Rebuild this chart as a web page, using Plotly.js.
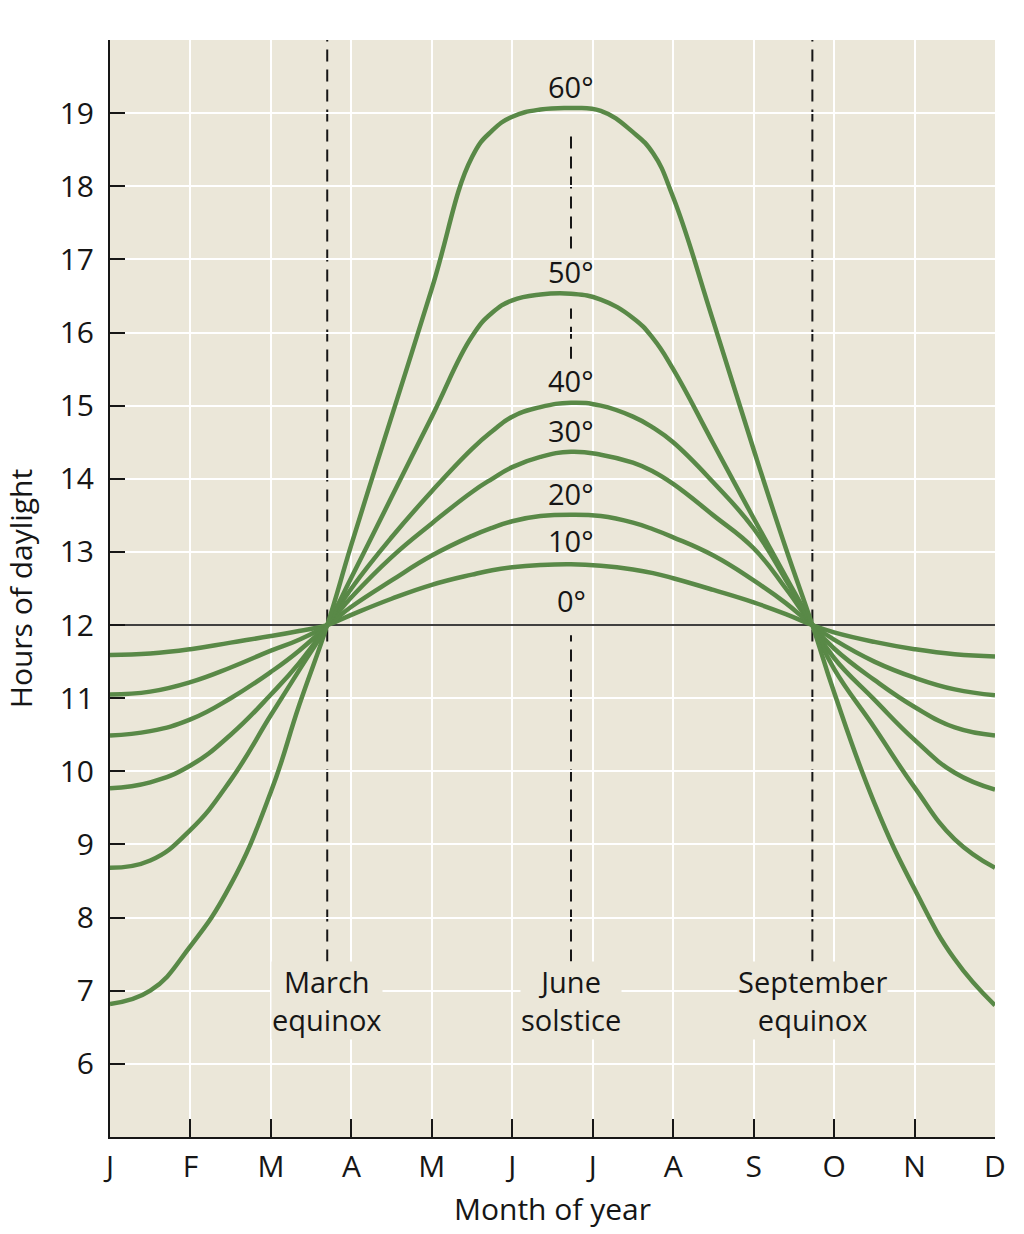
<!DOCTYPE html>
<html>
<head>
<meta charset="utf-8">
<script src="https://cdn.plot.ly/plotly-3.0.1.min.js"></script>
<style>
  body { margin: 0; background: #ffffff; }
  #chart { width: 1024px; height: 1234px; }
</style>
</head>
<body>
<div id="chart"></div>
<script>
// month position along the axis (0 = J ... 11 = D)
const monthPos = [0, 0.5, 1, 1.5, 2, 2.35, 2.7, 3, 3.5, 4, 4.5, 4.75, 5, 5.35, 5.73,
  6.1, 6.5, 6.75, 7, 7.5, 8, 8.4, 8.73, 9, 9.5, 10, 10.5, 11];

// hours of daylight
const lat0 = [12, 12, 12, 12, 12, 12, 12, 12, 12, 12, 12, 12, 12, 12, 12,
  12, 12, 12, 12, 12, 12, 12, 12, 12, 12, 12, 12, 12];
const lat10 = [11.59, 11.61, 11.67, 11.76, 11.85, 11.92, 12.0, 12.14, 12.36, 12.55, 12.69, 12.75, 12.79, 12.82, 12.83,
  12.81, 12.76, 12.71, 12.64, 12.48, 12.31, 12.15, 12.0, 11.9, 11.77, 11.67, 11.6, 11.57];
const lat20 = [11.05, 11.09, 11.22, 11.42, 11.65, 11.8, 12.0, 12.25, 12.61, 12.95, 13.22, 13.33, 13.42, 13.49, 13.51,
  13.49, 13.4, 13.31, 13.2, 12.95, 12.61, 12.3, 12.0, 11.8, 11.5, 11.28, 11.12, 11.04];
const lat30 = [10.49, 10.55, 10.71, 11.0, 11.36, 11.65, 12.0, 12.38, 12.93, 13.39, 13.82, 14.0, 14.16, 14.3, 14.37,
  14.33, 14.22, 14.1, 13.93, 13.5, 13.05, 12.5, 12.0, 11.68, 11.25, 10.88, 10.6, 10.49];
const lat40 = [9.77, 9.85, 10.08, 10.5, 11.05, 11.48, 12.0, 12.5, 13.2, 13.83, 14.41, 14.65, 14.85, 14.98, 15.04,
  15.0, 14.85, 14.7, 14.5, 13.95, 13.32, 12.62, 12.0, 11.55, 10.98, 10.43, 9.98, 9.75];
const lat50 = [8.68, 8.78, 9.2, 9.88, 10.77, 11.38, 12.0, 12.65, 13.75, 14.85, 15.95, 16.27, 16.44, 16.52, 16.53,
  16.45, 16.2, 15.92, 15.5, 14.48, 13.46, 12.66, 12.0, 11.4, 10.6, 9.78, 9.07, 8.68];
const lat60 = [6.82, 7.0, 7.61, 8.45, 9.72, 10.9, 12.0, 13.1, 14.85, 16.6, 18.4, 18.76, 18.95, 19.05, 19.07,
  19.03, 18.74, 18.45, 17.85, 16.15, 14.4, 13.05, 12.0, 11.08, 9.57, 8.39, 7.43, 6.8];

const latNames = ['0°', '10°', '20°', '30°', '40°', '50°', '60°'];
const latSeries = [lat0, lat10, lat20, lat30, lat40, lat50, lat60];
const latLabelY = [12.33, 13.15, 13.8, 14.66, 15.34, 16.84, 19.37];

const monthTicks = ['J', 'F', 'M', 'A', 'M', 'J', 'J', 'A', 'S', 'O', 'N', 'D'];
const hourTicks = [6, 7, 8, 9, 10, 11, 12, 13, 14, 15, 16, 17, 18, 19, 20];

const eventMonth = [2.7, 5.73, 8.73];
const eventText = ['March<br>equinox', 'June<br>solstice', 'September<br>equinox'];

const plotBg = '#ebe7d9';
const green = '#598947';
const ink = '#161616';
const font = 'Open Sans, Noto Sans, sans-serif';

const traces = latSeries.map((ys, i) => ({
  x: monthPos,
  y: ys,
  type: 'scatter',
  mode: 'lines',
  name: latNames[i],
  line: i === 0
    ? { color: '#000000', width: 1.5 }
    : { color: green, width: 4.5, shape: 'spline', smoothing: 1.3 },
  hoverinfo: 'skip',
}));

const annotations = latNames.map((name, i) => ({
  x: eventMonth[1], y: latLabelY[i], xref: 'x', yref: 'y',
  text: name, showarrow: false,
  font: { family: font, size: 29, color: ink },
}));

eventText.forEach((t, i) => {
  annotations.push({
    x: eventMonth[i], y: 6.86, xref: 'x', yref: 'y',
    text: t, showarrow: false, bgcolor: plotBg, borderpad: 0,
    font: { family: font, size: 29, color: ink },
  });
});

const dash = { color: ink, width: 2, dash: '12px,8px' };
const shapes = [
  { type: 'line', xref: 'x', yref: 'y', x0: eventMonth[0], x1: eventMonth[0], y0: 7.4, y1: 20, line: dash, layer: 'below' },
  { type: 'line', xref: 'x', yref: 'y', x0: eventMonth[2], x1: eventMonth[2], y0: 7.4, y1: 20, line: dash, layer: 'below' },
  { type: 'line', xref: 'x', yref: 'y', x0: eventMonth[1], x1: eventMonth[1], y0: 17.15, y1: 18.75, line: dash, layer: 'below' },
  { type: 'line', xref: 'x', yref: 'y', x0: eventMonth[1], x1: eventMonth[1], y0: 15.64, y1: 16.33, line: dash, layer: 'below' },
  { type: 'line', xref: 'x', yref: 'y', x0: eventMonth[1], x1: eventMonth[1], y0: 7.4, y1: 11.86, line: dash, layer: 'below' },
];

const layout = {
  width: 1024,
  height: 1234,
  margin: { l: 110, r: 29, t: 40, b: 97 },
  paper_bgcolor: '#ffffff',
  plot_bgcolor: plotBg,
  showlegend: false,
  font: { family: font, size: 30, color: ink },
  xaxis: {
    range: [0, 11],
    tickvals: monthTicks.map((_, i) => i),
    ticktext: monthTicks,
    ticks: 'inside',
    ticklen: 18,
    tickwidth: 2,
    tickcolor: ink,
    ticklabelstandoff: 2,
    tickfont: { family: font, size: 30, color: ink },
    showline: true,
    linecolor: ink,
    linewidth: 2,
    showgrid: true,
    gridcolor: '#ffffff',
    gridwidth: 2,
    zeroline: false,
    title: { text: 'Month of year', standoff: 14, font: { family: font, size: 30, color: ink } },
  },
  yaxis: {
    range: [5, 20],
    tickvals: hourTicks,
    ticktext: hourTicks.map(v => (v === 20 ? '' : String(v))),
    ticks: 'inside',
    ticklen: 15,
    tickwidth: 2,
    tickcolor: ink,
    ticklabelstandoff: 8,
    tickfont: { family: font, size: 30, color: ink },
    showline: true,
    linecolor: ink,
    linewidth: 2,
    showgrid: true,
    gridcolor: '#ffffff',
    gridwidth: 2,
    zeroline: false,
    title: { text: 'Hours of daylight', standoff: 20, font: { family: font, size: 30, color: ink } },
  },
  annotations: annotations,
  shapes: shapes,
};

Plotly.newPlot('chart', traces, layout, { staticPlot: true });
</script>
</body>
</html>
